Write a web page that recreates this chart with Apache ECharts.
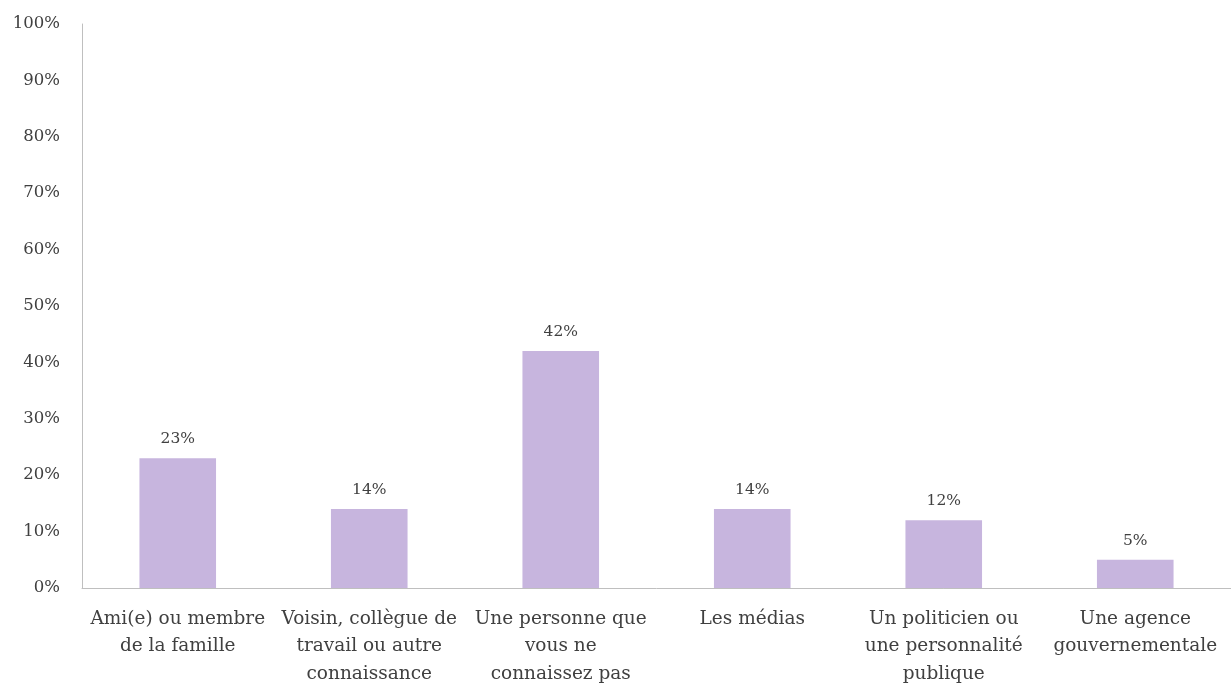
<!DOCTYPE html>
<html>
<head>
<meta charset="utf-8">
<script src="https://cdn.jsdelivr.net/npm/echarts@6/dist/echarts.min.js"></script>
<style>
  html, body { margin: 0; padding: 0; background: #ffffff; }
  #chart { width: 1231px; height: 684px; }
</style>
</head>
<body>
<div id="chart"></div>
<script>
// Sources of information (share of respondents, %)
const categories = [
  "Ami(e) ou membre\nde la famille",
  "Voisin, collègue de\ntravail ou autre\nconnaissance",
  "Une personne que\nvous ne\nconnaissez pas",
  "Les médias",
  "Un politicien ou\nune personnalité\npublique",
  "Une agence\ngouvernementale"
];
const values = [23, 14, 42, 14, 12, 5];
const yTicks = [0, 10, 20, 30, 40, 50, 60, 70, 80, 90, 100];

const FONT = "'DejaVu Serif', 'Liberation Serif', serif";
const TEXT = '#404040';

const chart = echarts.init(document.getElementById('chart'));
chart.setOption({
  animation: false,
  grid: {
    left: 82, right: 0, top: 24, bottom: 96,
    containLabel: false,
    outerBoundsMode: 'none'
  },
  xAxis: {
    type: 'category',
    data: categories,
    axisLine: { show: true, lineStyle: { color: '#BFBFBF', width: 1 } },
    axisTick: { show: false },
    axisLabel: {
      interval: 0,
      color: TEXT,
      fontFamily: FONT,
      fontSize: 18.5,
      lineHeight: 27.5,
      margin: 17
    }
  },
  yAxis: {
    type: 'value',
    min: yTicks[0],
    max: yTicks[yTicks.length - 1],
    interval: 10,
    axisLine: { show: true, lineStyle: { color: '#BFBFBF', width: 1 } },
    axisTick: { show: false },
    splitLine: { show: false },
    axisLabel: {
      color: TEXT,
      fontFamily: FONT,
      fontSize: 16.5,
      margin: 22,
      formatter: v => v + '%'
    }
  },
  series: [{
    type: 'bar',
    data: values,
    barWidth: '40%',
    itemStyle: { color: '#C7B5DE' },
    label: {
      show: true,
      position: 'top',
      distance: 11,
      color: TEXT,
      fontFamily: FONT,
      fontSize: 15.5,
      formatter: p => p.value + '%'
    }
  }]
});
</script>
</body>
</html>
